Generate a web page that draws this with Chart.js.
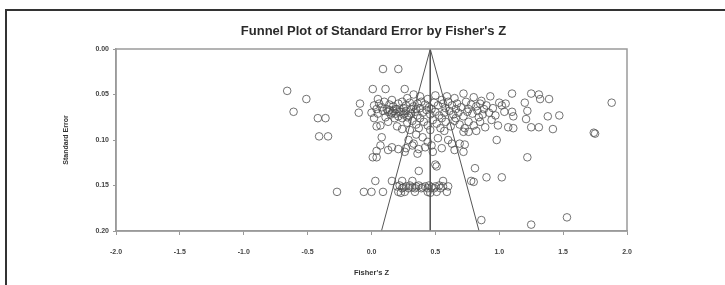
<!DOCTYPE html>
<html>
<head>
<meta charset="utf-8">
<title>Funnel Plot</title>
<script src="https://cdn.jsdelivr.net/npm/chart.js@4.4.0/dist/chart.umd.min.js"></script>
<style>
  body { margin: 0; background: #fff; }
  #wrap { position: relative; width: 725px; height: 285px; overflow: hidden; }
  #frame { position: absolute; left: 5px; top: 9px; width: 730px; height: 290px;
           border-top: 2px solid #333; border-left: 2px solid #333; }
  #chart { position: absolute; left: 0; top: 0; }
</style>
</head>
<body>
<div id="wrap">
  <div id="frame"></div>
  <canvas id="chart" width="725" height="285"></canvas>
</div>
<script>
// studies: Fisher's Z and standard error
var fisherZ = [
  -0.66, -0.51, -0.61, -0.42, -0.36, -0.41, -0.34, -0.09, -0.10, 0.09, 0.21, 0.01, 0.11, 0.26,
  0.33, 0.38, 0.50, 0.59, 0.72, 0.93, 1.10, 1.25, 1.31, 1.32, 1.39, 0.65, 0.80, 0.44, 0.28, 0.05,
  0.16, 0.55, 0.86, 1.88, 1.20, 1.00, 1.02,
  0.02, 0.06, 0.10, 0.14, 0.17, 0.21, 0.24, 0.27, 0.30, 0.33, 0.36, 0.39, 0.42, 0.45, 0.49, 0.52,
  0.56, 0.60, 0.63, 0.67, 0.70, 0.74, 0.78, 0.82, 0.85, 0.90, 0.95, 1.05, 0.08, 0.19, 0.25, 0.31,
  0.38, 0.47, 0.58, 0.66, 0.76, 0.88, 0.12, 0.04,
  0.00, 0.05, 0.09, 0.13, 0.15, 0.17, 0.19, 0.21, 0.23, 0.25, 0.27, 0.28, 0.31, 0.34, 0.36, 0.40,
  0.43, 0.46, 0.50, 0.53, 0.57, 0.61, 0.64, 0.68, 0.72, 0.75, 0.79, 0.83, 0.87, 0.92, 0.97, 1.04,
  1.10, 1.11, 1.22, 1.38, 1.47, 1.21, 0.11, 0.18, 0.24, 0.38, 0.55, 0.66, 0.84, 0.02, 0.14, 0.20,
  0.16, 0.22, 0.26, 0.29, 0.35,
  0.04, 0.07, 0.20, 0.28, 0.32, 0.35, 0.37, 0.30, 0.41, 0.44, 0.48, 0.51, 0.54, 0.58, 0.62, 0.65,
  0.69, 0.73, 0.76, 0.80, 0.85, 0.89, 0.99, 1.07, 1.11, 1.25, 1.31, 1.42, 0.94, 0.13, 0.24, 0.46,
  0.57, 0.82,
  0.08, 0.72, 0.76, 1.74, 1.75, 0.52, 0.98, 0.35, 0.40, 0.29, 0.44, 0.33, 0.63, 0.69, 0.73, 0.07,
  0.16, 0.21, 0.27, 0.32, 0.37, 0.42, 0.47, 0.04, 0.13, 0.26, 0.55, 0.65, 0.72, 0.01, 0.04, 0.60,
  0.48, 0.36,
  1.22, 0.37, 0.51, 0.81, 0.50,
  0.03, 0.16, 0.24, 0.32, 0.56, 0.78, 0.90, 1.02, 0.80,
  0.20, 0.22, 0.25, 0.27, 0.30, 0.32, 0.35, 0.37, 0.40, 0.42, 0.45, 0.47, 0.50, 0.53, 0.56, 0.60,
  0.24, 0.29, 0.34, 0.39, 0.44, 0.49, 0.54,
  -0.27, -0.06, 0.00, 0.09, 0.21, 0.23, 0.26, 0.34, 0.44, 0.46, 0.51, 0.59,
  0.86, 1.25, 1.53
];
var stdError = [
  0.046, 0.055, 0.069, 0.076, 0.076, 0.096, 0.096, 0.060, 0.070, 0.022, 0.022, 0.044, 0.044, 0.044,
  0.050, 0.052, 0.051, 0.052, 0.049, 0.052, 0.049, 0.049, 0.050, 0.055, 0.055, 0.054, 0.053, 0.055, 0.054, 0.055,
  0.056, 0.056, 0.057, 0.059, 0.059, 0.059, 0.062,
  0.062, 0.060, 0.058, 0.061, 0.063, 0.060, 0.058, 0.062, 0.059, 0.063, 0.060, 0.058, 0.061, 0.064, 0.059, 0.062,
  0.060, 0.058, 0.062, 0.060, 0.064, 0.058, 0.061, 0.063, 0.060, 0.062, 0.065, 0.060, 0.064, 0.066, 0.065, 0.066,
  0.065, 0.066, 0.065, 0.066, 0.066, 0.066, 0.066, 0.066,
  0.070, 0.071, 0.068, 0.069, 0.072, 0.068, 0.071, 0.074, 0.069, 0.072, 0.068, 0.075, 0.071, 0.069, 0.073, 0.070,
  0.067, 0.072, 0.069, 0.073, 0.070, 0.068, 0.072, 0.070, 0.074, 0.069, 0.071, 0.068, 0.072, 0.070, 0.073, 0.069,
  0.069, 0.074, 0.068, 0.074, 0.073, 0.077, 0.075, 0.076, 0.076, 0.076, 0.076, 0.076, 0.075, 0.076, 0.067, 0.066,
  0.070, 0.069, 0.071, 0.073, 0.066,
  0.085, 0.084, 0.085, 0.081, 0.079, 0.083, 0.087, 0.089, 0.080, 0.084, 0.078, 0.082, 0.087, 0.080, 0.085, 0.079,
  0.083, 0.087, 0.080, 0.084, 0.080, 0.086, 0.084, 0.086, 0.087, 0.086, 0.086, 0.088, 0.078, 0.080, 0.088, 0.089,
  0.090, 0.090,
  0.097, 0.091, 0.091, 0.092, 0.093, 0.098, 0.100, 0.094, 0.097, 0.100, 0.102, 0.104, 0.104, 0.104, 0.105, 0.106,
  0.108, 0.110, 0.109, 0.106, 0.110, 0.108, 0.106, 0.112, 0.111, 0.113, 0.109, 0.111, 0.113, 0.119, 0.119, 0.100,
  0.113, 0.115,
  0.119, 0.134, 0.129, 0.131, 0.127,
  0.145, 0.145, 0.145, 0.145, 0.145, 0.145, 0.141, 0.141, 0.146,
  0.151, 0.150, 0.152, 0.151, 0.150, 0.152, 0.151, 0.150, 0.152, 0.151, 0.150, 0.152, 0.151, 0.150, 0.151, 0.151,
  0.153, 0.153, 0.153, 0.153, 0.153, 0.153, 0.153,
  0.157, 0.157, 0.157, 0.157, 0.157, 0.158, 0.157, 0.157, 0.157, 0.158, 0.157, 0.157,
  0.188, 0.193, 0.185
];
// funnel: pooled estimate and its 95% limits at the bottom of the axis
var funnelZ = [0.078, 0.46, 0.842];
var funnelSE = [0.20, 0.00, 0.20];
var meanZ = [0.46, 0.46];
var meanSE = [0.00, 0.20];

var puntos = fisherZ.map(function (z, i) { return { x: z, y: stdError[i] }; });
var embudo = funnelZ.map(function (z, i) { return { x: z, y: funnelSE[i] }; });
var media = meanZ.map(function (z, i) { return { x: z, y: meanSE[i] }; });

var tickFont = { family: 'Liberation Sans', size: 7, weight: 'bold' };

// marco del area de trazado y titulo centrado sobre ella
var marco = {
  id: 'marco',
  afterDraw: function (chart) {
    var a = chart.chartArea, ctx = chart.ctx;
    ctx.save();
    ctx.strokeStyle = '#9a9a9a';
    ctx.lineWidth = 1.5;
    ctx.strokeRect(a.left, a.top, a.right - a.left, a.bottom - a.top);
    ctx.fillStyle = '#2a2a2a';
    ctx.font = 'bold 13px Liberation Sans';
    ctx.textAlign = 'center';
    ctx.textBaseline = 'middle';
    ctx.fillText("Funnel Plot of Standard Error by Fisher's Z", (a.left + a.right) / 2 + 2, 31);
    ctx.restore();
  }
};

new Chart(document.getElementById('chart'), {
  type: 'scatter',
  data: {
    datasets: [{
      data: puntos,
      pointStyle: 'circle',
      pointRadius: 3.8,
      borderColor: 'rgba(80,80,80,0.8)',
      backgroundColor: 'rgba(0,0,0,0)',
      borderWidth: 1
    }, {
      data: embudo,
      showLine: true,
      pointRadius: 0,
      borderColor: '#555',
      borderWidth: 1,
      fill: false
    }, {
      data: media,
      showLine: true,
      pointRadius: 0,
      borderColor: '#555',
      borderWidth: 1,
      fill: false
    }]
  },
  options: {
    responsive: false,
    animation: false,
    layout: { padding: { left: 40, top: 49, right: 98, bottom: 5 } },
    plugins: { legend: { display: false }, tooltip: { enabled: false } },
    scales: {
      x: {
        type: 'linear', min: -2, max: 2,
        ticks: { stepSize: 0.5, font: tickFont, color: '#444', padding: 13,
                 callback: function (v) { return v.toFixed(1); } },
        grid: { drawOnChartArea: false, tickLength: 4, color: '#999' },
        border: { color: '#9a9a9a', width: 1.5 },
        title: { display: true, text: "Fisher's Z", color: '#333',
                 font: { family: 'Liberation Sans', size: 7.5, weight: 'bold' }, padding: { bottom: 3 } },
        afterFit: function (s) { s.height = 49; }
      },
      y: {
        type: 'linear', min: 0, max: 0.2, reverse: true,
        ticks: { stepSize: 0.05, font: tickFont, color: '#444', padding: 4,
                 callback: function (v) { return v.toFixed(2); } },
        grid: { drawOnChartArea: false, tickLength: 3, color: '#999' },
        border: { color: '#9a9a9a', width: 1.5 },
        title: { display: true, text: 'Standard Error', color: '#333',
                 font: { family: 'Liberation Sans', size: 7, weight: 'bold' }, padding: { top: 22 } },
        afterFit: function (s) { s.width = 76; }
      }
    }
  },
  plugins: [marco]
});
</script>
</body>
</html>
